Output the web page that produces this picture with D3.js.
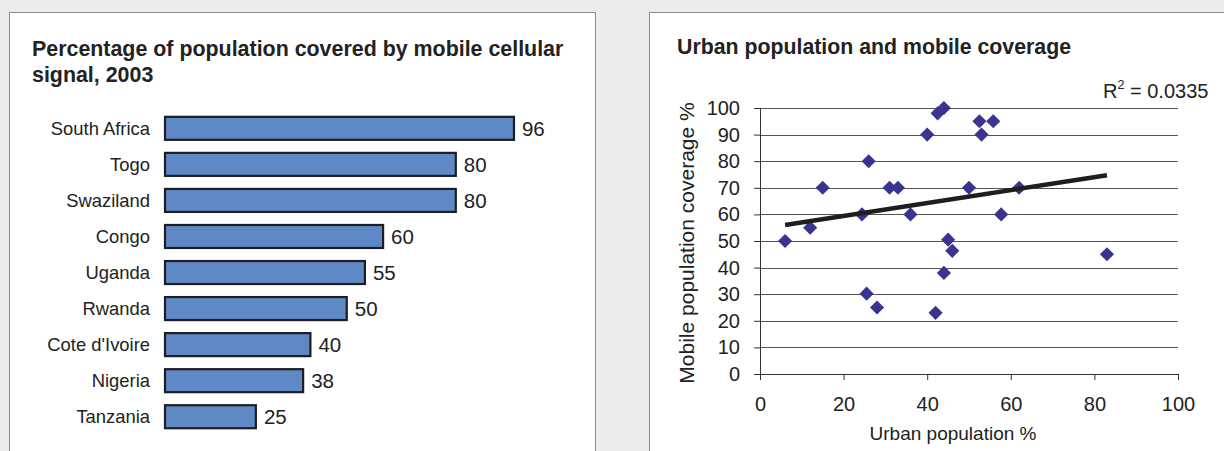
<!DOCTYPE html>
<html>
<head>
<meta charset="utf-8">
<script src="https://cdn.jsdelivr.net/npm/d3@7"></script>
<style>
  html, body { margin: 0; padding: 0; background: #ebecee; }
  svg { display: block; }
  text { font-family: "Liberation Sans", Arial, Helvetica, sans-serif; fill: #222; }
</style>
</head>
<body>
<svg id="chart" width="1224" height="451"></svg>
<script>
// Mobile coverage by country, 2003
const categories = ["South Africa", "Togo", "Swaziland", "Congo", "Uganda", "Rwanda", "Cote d'Ivoire", "Nigeria", "Tanzania"];
const coverage = [96, 80, 80, 60, 55, 50, 40, 38, 25];

// Urban population share vs. mobile coverage, one point per country
const urbanPct = [6, 12, 15, 24.4, 26, 25.5, 28, 31, 33, 36, 40, 42.5, 44, 42, 44, 45, 46, 52.5, 53, 55.8, 50, 57.7, 62, 83];
const mobilePct = [50, 55, 70, 60, 80, 30.2, 25, 70, 70, 60, 90, 98, 100, 23, 38, 50.5, 46.3, 95, 90, 95, 70, 60, 70, 45];

const xTickValues = [0, 20, 40, 60, 80, 100];
const yTickValues = [0, 10, 20, 30, 40, 50, 60, 70, 80, 90, 100];
const rSquaredLabel = "0.0335";

const svg = d3.select("#chart");

// ---------- panels ----------
svg.append("rect").attr("x", 9.5).attr("y", 12.5).attr("width", 586).attr("height", 470)
  .attr("fill", "#fff").attr("stroke", "#8c8c8c").attr("stroke-width", 1);
svg.append("rect").attr("x", 649.5).attr("y", 12.5).attr("width", 620).attr("height", 470)
  .attr("fill", "#fff").attr("stroke", "#8c8c8c").attr("stroke-width", 1);

// ---------- left: bar chart ----------
const left = svg.append("g");
left.append("text").attr("x", 32).attr("y", 56)
  .attr("font-size", 21.4).attr("font-weight", "bold")
  .text("Percentage of population covered by mobile cellular");
left.append("text").attr("x", 32).attr("y", 82)
  .attr("font-size", 21.4).attr("font-weight", "bold")
  .text("signal, 2003");

const bx = d3.scaleLinear().domain([0, 100]).range([165, 165 + 363.5]);
const by = d3.scaleBand().domain(categories).range([110.3, 434.75])
  .paddingInner(0.362).paddingOuter(0.181);

const rows = categories.map((c, i) => ({ name: c, value: coverage[i] }));

left.selectAll("rect.bar").data(rows).join("rect")
  .attr("class", "bar")
  .attr("x", bx(0))
  .attr("y", d => by(d.name))
  .attr("width", d => bx(d.value) - bx(0))
  .attr("height", by.bandwidth())
  .attr("fill", "#5f88c6")
  .attr("stroke", "#1e1e1e")
  .attr("stroke-width", 2.2);

left.selectAll("text.cat").data(rows).join("text")
  .attr("class", "cat")
  .attr("x", 150)
  .attr("y", d => by(d.name) + by.bandwidth() / 2)
  .attr("dy", "0.35em")
  .attr("text-anchor", "end")
  .attr("font-size", 18.4)
  .text(d => d.name);

left.selectAll("text.val").data(rows).join("text")
  .attr("class", "val")
  .attr("x", d => bx(d.value) + 8)
  .attr("y", d => by(d.name) + by.bandwidth() / 2)
  .attr("dy", "0.36em")
  .attr("font-size", 20.5)
  .text(d => d.value);

// ---------- right: scatter with linear trend ----------
const right = svg.append("g");
right.append("text").attr("x", 677).attr("y", 54)
  .attr("font-size", 21.3).attr("font-weight", "bold")
  .text("Urban population and mobile coverage");

const sx = d3.scaleLinear().domain([0, 100]).range([760, 1178]);
const sy = d3.scaleLinear().domain([0, 100]).range([374, 108]);

// horizontal gridlines
right.append("g").selectAll("line").data(yTickValues.filter(v => v > 0)).join("line")
  .attr("x1", sx(0)).attr("x2", sx(100))
  .attr("y1", d => Math.round(sy(d)) + 0.5).attr("y2", d => Math.round(sy(d)) + 0.5)
  .attr("stroke", "#555").attr("stroke-width", 1);

const yAxis = d3.axisLeft(sy).tickValues(yTickValues).tickSize(6).tickSizeOuter(0).tickPadding(14);
const gy = right.append("g").attr("transform", `translate(${sx(0)},0)`).call(yAxis);
gy.selectAll("text").attr("font-size", 20).attr("fill", "#222")
  .attr("font-family", "Liberation Sans, Arial, sans-serif");
gy.selectAll("line, path").attr("stroke", "#333");

const xAxis = d3.axisBottom(sx).tickValues(xTickValues).tickSize(6).tickSizeOuter(0).tickPadding(17);
const gx = right.append("g").attr("transform", `translate(0,${sy(0)})`).call(xAxis);
gx.selectAll("text").attr("font-size", 20).attr("fill", "#222")
  .attr("font-family", "Liberation Sans, Arial, sans-serif");
gx.selectAll("line, path").attr("stroke", "#333");

right.append("text")
  .attr("transform", `translate(694,${(sy(0) + sy(100)) / 2 + 2}) rotate(-90)`)
  .attr("text-anchor", "middle")
  .attr("font-size", 21)
  .text("Mobile population coverage %");

right.append("text")
  .attr("x", 953).attr("y", 440)
  .attr("text-anchor", "middle")
  .attr("font-size", 19)
  .text("Urban population %");

// points
const pts = urbanPct.map((u, i) => ({ x: u, y: mobilePct[i] }));
const diamond = d3.symbol().type(d3.symbolSquare).size(100);
right.append("g").selectAll("path").data(pts).join("path")
  .attr("d", diamond)
  .attr("transform", d => `translate(${sx(d.x)},${sy(d.y)}) rotate(45)`)
  .attr("fill", "#38348f");

// least-squares trend line over the observed range
const mx = d3.mean(pts, d => d.x), my = d3.mean(pts, d => d.y);
const slope = d3.sum(pts, d => (d.x - mx) * (d.y - my)) / d3.sum(pts, d => (d.x - mx) ** 2);
const intercept = my - slope * mx;
const [x0, x1] = d3.extent(pts, d => d.x);
right.append("line")
  .attr("x1", sx(x0)).attr("y1", sy(intercept + slope * x0))
  .attr("x2", sx(x1)).attr("y2", sy(intercept + slope * x1))
  .attr("stroke", "#1e1e1e").attr("stroke-width", 4.5);

const r2 = right.append("text").attr("x", 1103).attr("y", 98).attr("font-size", 20);
r2.append("tspan").text("R");
r2.append("tspan").attr("font-size", 12.5).attr("dy", "-0.75em").text("2");
r2.append("tspan").attr("dy", "0.48em").text(" = " + rSquaredLabel);
</script>
</body>
</html>
